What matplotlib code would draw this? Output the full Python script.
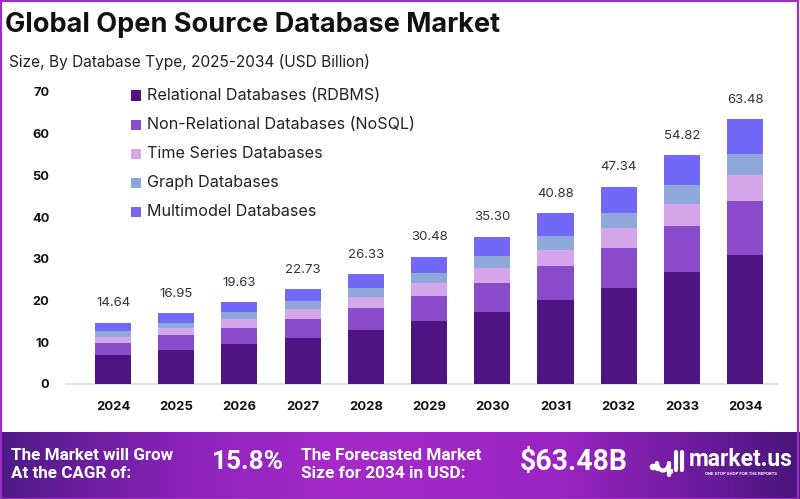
import numpy as np
import matplotlib
matplotlib.use("Agg")
import matplotlib.pyplot as plt
from matplotlib.patches import Rectangle, Arc
from matplotlib.lines import Line2D
from matplotlib.colors import LinearSegmentedColormap

# ---------------- data ----------------
years = ["2024", "2025", "2026", "2027", "2028", "2029", "2030", "2031", "2032", "2033", "2034"]
totals = [14.64, 16.95, 19.63, 22.73, 26.33, 30.48, 35.30, 40.88, 47.34, 54.82, 63.48]
series_names = ["Relational Databases (RDBMS)", "Non-Relational Databases (NoSQL)",
                "Time Series Databases", "Graph Databases", "Multimodel Databases"]
rdbms = [6.96, 8.20, 9.60, 11.10, 12.90, 15.00, 17.30, 20.05, 23.05, 26.90, 31.00]
nosql = [2.96, 3.50, 3.90, 4.60, 5.20, 6.10, 7.00, 8.12, 9.50, 10.96, 12.80]
timeseries = [1.44, 1.70, 2.10, 2.30, 2.75, 3.00, 3.45, 4.02, 4.75, 5.28, 6.25]
graph = [1.28, 1.30, 1.55, 1.85, 2.18, 2.58, 2.90, 3.30, 3.80, 4.48, 5.20]
multimodel = [2.00, 2.25, 2.48, 2.88, 3.30, 3.80, 4.65, 5.39, 6.24, 7.20, 8.23]
y_ticks = [0, 10, 20, 30, 40, 50, 60, 70]

title = "Global Open Source Database Market"
subtitle = "Size, By Database Type, 2025-2034 (USD Billion)"
cagr_label = ["The Market will Grow", "At the CAGR of:"]
cagr_value = "15.8%"
forecast_label = ["The Forecasted Market", "Size for 2034 in USD:"]
forecast_value = "$63.48B"

colors = ["#4e1582", "#8b4ccb", "#d4a6ea", "#8fa8dc", "#7268f8"]

# ---------------- figure ----------------
W, H = 800, 499
fig = plt.figure(figsize=(W / 100, H / 100), dpi=100)
fig.patch.set_facecolor("white")
renderer = fig.canvas.get_renderer()

def fx(x):
    return x / W

def fy(y):
    return 1 - y / H

def size_for(text, target_w, **props):
    t = fig.text(0, 0, text, fontsize=10, **props)
    w = t.get_window_extent(renderer).width
    t.remove()
    return 10 * target_w / w

BODY = "Inter"
BANNER = "Roboto"

# ---------------- main axes ----------------
ax = fig.add_axes([fx(66), fy(384), fx(778) - fx(66), fy(92) - fy(384)])
x = np.arange(len(years))
bottom = np.zeros(len(years))
series = [rdbms, nosql, timeseries, graph, multimodel]
for vals, col, name in zip(series, colors, series_names):
    ax.bar(x, vals, bottom=bottom, width=0.57, color=col, label=name, zorder=3)
    bottom += np.array(vals)

ax.set_xlim(-0.744, 10.52)
ax.set_ylim(0, 70)
ax.set_yticks(y_ticks)
ax.set_xticks(x)
ax.set_xticklabels(years)
for s in ["top", "right", "left"]:
    ax.spines[s].set_visible(False)
ax.spines["bottom"].set_color("#dcdcdc")
ax.spines["bottom"].set_linewidth(1.2)
ax.tick_params(axis="both", length=0)
ax.tick_params(axis="y", pad=12)
ax.tick_params(axis="x", pad=12)

ys = size_for("70", 16, family=BODY, weight="bold")
xs = size_for("2024", 34, family=BODY, weight="bold")
for lab in ax.get_yticklabels():
    lab.set_fontfamily(BODY); lab.set_fontweight("bold"); lab.set_fontsize(ys); lab.set_color("#111111")
for lab in ax.get_xticklabels():
    lab.set_fontfamily(BODY); lab.set_fontweight("bold"); lab.set_fontsize(xs); lab.set_color("#111111")

vs = size_for("63.48", 37, family=BODY)
for xi, tot in zip(x, totals):
    ax.annotate(f"{tot:.2f}", (xi, tot), xytext=(0, 14), textcoords="offset points",
                ha="center", va="center", fontsize=vs, family=BODY, color="#333333")

# ---------------- legend (manual) ----------------
ls = size_for(series_names[0], 234, family=BODY)
leg_y = [95.5, 125, 154, 183, 212]
for name, col, yy in zip(series_names, colors, leg_y):
    fig.add_artist(Rectangle((fx(131), fy(yy + 5)), 10 / W, 10 / H, transform=fig.transFigure,
                             facecolor=col, edgecolor="none"))
    fig.text(fx(147), fy(yy), name, fontsize=ls, family=BODY, color="#222222", va="center", ha="left")

# ---------------- titles ----------------
ts = size_for(title, 494, family=BODY, weight="bold")
fig.text(fx(5), fy(25), title, fontsize=ts, family=BODY, weight="bold", color="#111111", va="center")
ss = size_for(subtitle, 363, family=BODY)
fig.text(fx(9), fy(62), subtitle, fontsize=ss, family=BODY, color="#222222", va="center")

# ---------------- banner ----------------
bax = fig.add_axes([0, 0, 1, fy(432)])
bax.set_xlim(0, W)
bax.set_ylim(499, 432)
bax.axis("off")
cmap = LinearSegmentedColormap.from_list(
    "banner",
    [(0.0, "#4f1a86"), (0.22, "#8a23b8"), (0.42, "#a52ac9"), (0.7, "#9a25c2"), (0.88, "#6a1b9c"), (1.0, "#481579")])
grad = np.linspace(0, 1, 400)[None, :]
bax.imshow(grad, cmap=cmap, aspect="auto", extent=[0, W, 499, 432], zorder=0)

b1 = size_for(cagr_label[0], 162, family=BANNER, weight="bold")
bax.text(11, 455, cagr_label[0], fontsize=b1, family=BANNER, weight="bold", color="white", va="center")
bax.text(11, 473, cagr_label[1], fontsize=b1, family=BANNER, weight="bold", color="white", va="center")
b2 = size_for(cagr_value, 72, family=BANNER, weight="bold")
bax.text(212, 462, cagr_value, fontsize=b2, family=BANNER, weight="bold", color="white", va="center")
b3 = size_for(forecast_label[0], 180, family=BANNER, weight="bold")
bax.text(301, 455, forecast_label[0], fontsize=b3, family=BANNER, weight="bold", color="white", va="center")
bax.text(301, 473, forecast_label[1], fontsize=b3, family=BANNER, weight="bold", color="white", va="center")
b4 = size_for(forecast_value, 108, family=BANNER, weight="bold")
bax.text(520, 462, forecast_value, fontsize=b4, family=BANNER, weight="bold", color="white", va="center")

# logo
b5 = size_for("market.us", 104, family=BANNER, weight="bold")
bax.text(689, 459, "market.us", fontsize=b5, family=BANNER, weight="bold", color="white", va="center")
bax.text(741, 474, "ONE STOP SHOP FOR THE REPORTS", fontsize=3.2, family=BANNER, weight="bold",
         color="white", va="center", ha="center")
bax.add_patch(plt.Circle((653, 467), 2.6, color="white"))
bax.add_patch(Arc((663, 463), 12, 15, theta1=0, theta2=180, color="white", lw=3.0))
bax.add_line(Line2D([657, 657], [463, 469], color="white", lw=3.0, solid_capstyle="round"))
bax.add_line(Line2D([669, 669], [463, 475], color="white", lw=3.0, solid_capstyle="round"))
bax.add_patch(Arc((673, 475), 8, 8, theta1=180, theta2=270, color="white", lw=3.0))
bax.add_line(Line2D([676, 676], [452, 470], color="white", lw=3.0, solid_capstyle="round"))
bax.add_line(Line2D([682, 682], [452, 470], color="white", lw=3.0, solid_capstyle="round"))

# border
fig.add_artist(Rectangle((0.001, 0.0), 0.997, 0.997, transform=fig.transFigure, fill=False,
                         edgecolor="#9b30c9", lw=1.6))

fig.savefig("out.png", dpi=100)
